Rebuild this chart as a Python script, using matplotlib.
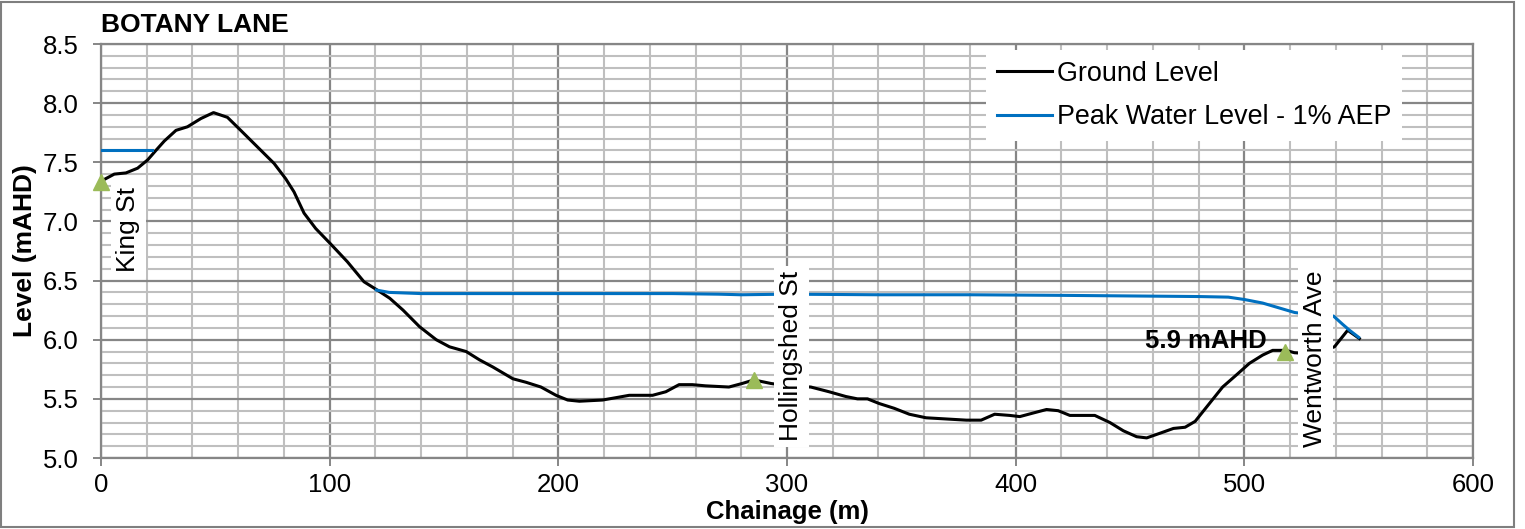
import numpy as np
import matplotlib
matplotlib.use("Agg")
import matplotlib.pyplot as plt
from matplotlib.ticker import MultipleLocator, FormatStrFormatter
from matplotlib.lines import Line2D
from matplotlib.patches import Rectangle

plt.rcParams['font.family'] = ['Liberation Sans', 'DejaVu Sans']

# ---- data ----
ground_x = [0, 5.8, 10.9, 16, 20.4, 24, 27.7, 32.8, 37.8, 43.7, 49.2, 55.3, 61.1, 68.4,
            75.7, 80.8, 84.4, 88.8, 93.9, 100.4, 107.7, 115, 120.8, 126.3, 132.1, 139.3,
            146.6, 152.4, 159.7, 165.5, 171.3, 180.1, 185.9, 192.4, 199, 204.1, 209.2,
            219.3, 225.2, 231, 241.2, 247, 252.8, 258.6, 264.4, 274.6, 280.4, 285.5, 293,
            300, 310.4, 318.4, 325.7, 330.8, 335.2, 340.4, 346.9, 353.5, 360.8, 369.6,
            378.4, 384.9, 390.8, 397.4, 401.8, 407.6, 413.5, 418.6, 423.7, 428.8, 434.6,
            441.2, 447.1, 452.9, 457.3, 463.2, 469, 474.1, 478.5, 484.7, 490.5, 496.4,
            502.2, 508, 512.4, 518.2, 521.9, 530, 539.4, 545.2, 550.3]
ground_y = [7.34, 7.40, 7.41, 7.45, 7.52, 7.60, 7.68, 7.77, 7.80, 7.87, 7.92, 7.88, 7.77, 7.63,
            7.49, 7.36, 7.25, 7.07, 6.94, 6.81, 6.66, 6.49, 6.42, 6.35, 6.25, 6.11,
            6.00, 5.94, 5.90, 5.83, 5.77, 5.67, 5.64, 5.60, 5.53, 5.49, 5.48,
            5.49, 5.51, 5.53, 5.53, 5.56, 5.62, 5.62, 5.61, 5.60, 5.63, 5.66, 5.63,
            5.61, 5.60, 5.56, 5.52, 5.50, 5.50, 5.46, 5.42, 5.37, 5.34, 5.33,
            5.32, 5.32, 5.37, 5.36, 5.35, 5.38, 5.41, 5.40, 5.36, 5.36, 5.36,
            5.30, 5.23, 5.18, 5.17, 5.21, 5.25, 5.26, 5.31, 5.46, 5.60, 5.70,
            5.80, 5.87, 5.91, 5.91, 5.89, 5.88, 5.94, 6.08, 6.01]

water_x_upstream = [0, 22.5]
water_y_upstream = [7.60, 7.60]
water_x = [120.4, 126, 140, 200, 250, 270, 280, 300, 340, 380, 420, 450, 480, 493,
           500, 508, 515, 522, 530, 539, 543, 546, 550]
water_y = [6.42, 6.40, 6.39, 6.39, 6.39, 6.385, 6.38, 6.385, 6.38, 6.38, 6.375, 6.37,
           6.365, 6.36, 6.34, 6.31, 6.27, 6.23, 6.21, 6.20, 6.13, 6.08, 6.02]

road_x = [0, 285.5, 518]
road_y = [7.33, 5.66, 5.90]
road_names = ['King St', 'Hollingshed St', 'Wentworth Ave']
road_label_x = [12.0, 301.9, 531.0]
road_label_y = [6.93, 5.86, 5.84]

series_names = ['Ground Level', 'Peak Water Level - 1% AEP']
x_ticks = [0, 100, 200, 300, 400, 500, 600]
y_ticks = [5.0, 5.5, 6.0, 6.5, 7.0, 7.5, 8.0, 8.5]

# ---- figure ----
W, H = 1525, 529
fig = plt.figure(figsize=(W / 100, H / 100), dpi=100)
ax = fig.add_axes([101 / W, 1 - 458 / H, 1372 / W, 414 / H])

BLACK = '#000000'
BLUE = '#0070c0'
GREEN = '#9bbb59'
MAJ = '#868686'
MIN = '#bfbfbf'
FS = 19
TICK_FS = 18.5

ax.plot(ground_x, ground_y, color=BLACK, lw=2.2, zorder=3)
ax.plot(water_x_upstream, water_y_upstream, color=BLUE, lw=2.2, zorder=3)
ax.plot(water_x, water_y, color=BLUE, lw=2.2, zorder=3)
ax.plot(road_x, road_y, linestyle='none', marker='^', markersize=11,
        color=GREEN, zorder=4, clip_on=False)

ax.set_xlim(0, 600)
ax.set_ylim(5.0, 8.5)
ax.set_xticks(x_ticks)
ax.set_yticks(y_ticks)
ax.yaxis.set_major_formatter(FormatStrFormatter('%.1f'))
ax.xaxis.set_minor_locator(MultipleLocator(20))
ax.yaxis.set_minor_locator(MultipleLocator(0.1))
ax.grid(which='minor', color=MIN, lw=1.5, zorder=0)
ax.grid(which='major', color=MAJ, lw=1.6, zorder=1)
ax.set_axisbelow(True)
ax.tick_params(which='minor', length=0)
ax.tick_params(which='major', direction='out', length=6, width=1.4, color=MAJ,
               labelsize=TICK_FS)
ax.tick_params(axis='x', pad=4.5)
ax.tick_params(axis='y', pad=10)
for s in ax.spines.values():
    s.set_color(MAJ)
    s.set_linewidth(1.6)

ax.set_xlabel('Chainage (m)', fontsize=18.5, fontweight='bold')
ax.xaxis.set_label_coords(0.5, -0.1014)
ax.set_ylabel('Level (mAHD)', fontsize=FS, fontweight='bold')
ax.yaxis.set_label_coords(-0.047, 0.5)
ax.set_title('BOTANY LANE', loc='left', fontsize=FS, fontweight='bold', pad=9)

for name, lx, ly in zip(road_names, road_label_x, road_label_y):
    ax.text(lx, ly, name, rotation=90, ha='center', va='center', fontsize=FS,
            bbox=dict(facecolor='white', edgecolor='none', pad=4), zorder=5)

ax.text(509.9, 5.99, '%.1f mAHD' % road_y[2], ha='right', va='center',
        fontsize=18.5, fontweight='bold', zorder=5)

handles = [Line2D([], [], color=BLACK, lw=2.2), Line2D([], [], color=BLUE, lw=2.2)]
leg = ax.legend(handles, series_names, loc='upper left', bbox_to_anchor=(0.645, 0.9855),
                frameon=True, fancybox=False, edgecolor='none', facecolor='white',
                framealpha=1, fontsize=19.4, handlelength=2.05, handletextpad=0.19,
                labelspacing=0.65, borderpad=0.4, borderaxespad=0)
leg.set_zorder(6)

fig.patches.append(Rectangle((1, 2), 1513, 525, transform=None, fill=False,
                             edgecolor='#7f7f7f', lw=1.5))

fig.savefig('out.png', dpi=100)
